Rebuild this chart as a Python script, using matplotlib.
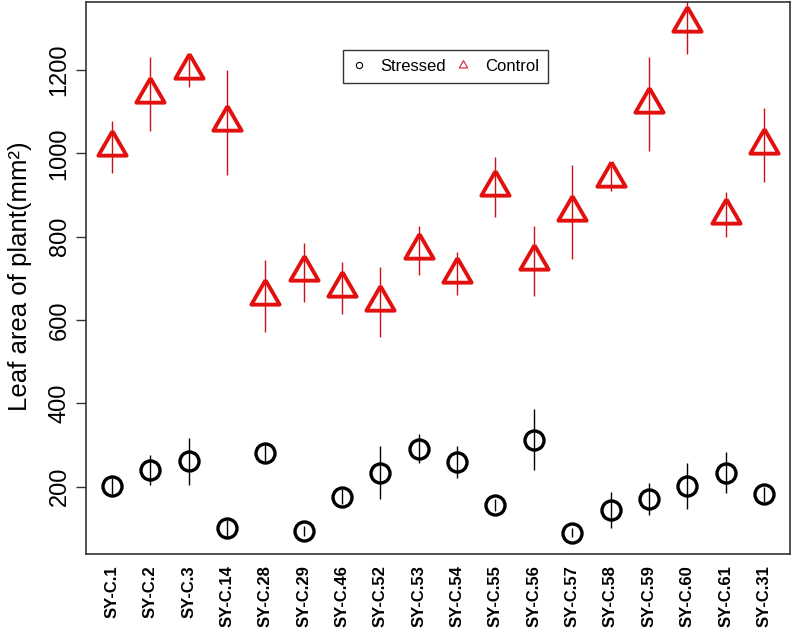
import numpy as np
import matplotlib
matplotlib.use("Agg")
import matplotlib.pyplot as plt

plt.rcParams['font.family'] = ['Liberation Sans', 'DejaVu Sans']

# lines (genotypes) in plotting order
lines = ["SY-C.1", "SY-C.2", "SY-C.3", "SY-C.14", "SY-C.28", "SY-C.29",
         "SY-C.46", "SY-C.52", "SY-C.53", "SY-C.54", "SY-C.55", "SY-C.56",
         "SY-C.57", "SY-C.58", "SY-C.59", "SY-C.60", "SY-C.61", "SY-C.31"]

# mean leaf area (mm2) and error
stressed = [202, 240, 261, 100, 282, 94, 176, 234, 291, 260, 156, 313,
            90, 144, 170, 202, 234, 182]
stressed_err = [20, 36, 57, 20, 20, 12, 18, 64, 35, 38, 14, 74,
                10, 43, 39, 56, 49, 18]
control = [1015, 1142, 1200, 1074, 657, 714, 676, 644, 767, 711, 920, 742,
           859, 940, 1118, 1313, 853, 1020]
control_err = [63, 88, 40, 125, 86, 70, 62, 84, 59, 51, 72, 84,
               113, 30, 112, 75, 53, 88]

x = np.arange(1, len(lines) + 1)

# equilateral triangle like R's pch=2, centred on its centroid
tri = [(0, 1), (-np.sqrt(3) / 2, -0.5), (np.sqrt(3) / 2, -0.5), (0, 1)]

fig = plt.figure(figsize=(7.93, 6.28), dpi=100)
ax = fig.add_axes([0.1084, 0.1178, 0.9962 - 0.1084, 0.9968 - 0.1178])

ax.vlines(x, np.array(stressed) - stressed_err, np.array(stressed) + stressed_err,
          color="black", lw=1.0, zorder=2)
ax.vlines(x, np.array(control) - control_err, np.array(control) + control_err,
          color="#cc1010", lw=1.0, zorder=2)

ax.plot(x, stressed, ls="none", marker="o", ms=13.7, mfc="none", mec="black",
        mew=2.4, zorder=3)
ax.plot(x, control, ls="none", marker=tri, ms=23.5, mfc="none", mec="#e31010",
        mew=2.8, zorder=3)

# legend handles
h1, = ax.plot([], [], ls="none", marker="o", ms=4.5, mfc="none", mec="black", mew=0.8)
h2, = ax.plot([], [], ls="none", marker=tri, ms=7, mfc="none", mec="#d8202c", mew=0.8)
leg = ax.legend([h1, h2], ["Stressed", "Control"], ncol=2, loc="upper left",
                bbox_to_anchor=(0.365, 0.913), fontsize=12, frameon=True,
                fancybox=False, edgecolor="black", handlelength=0.8,
                handletextpad=0.92, columnspacing=0.58, borderpad=0.55,
                borderaxespad=0)
leg.get_frame().set_linewidth(1.0)

ax.set_xlim(0.32, 18.68)
ax.set_ylim(38.5, 1363)

ax.set_xticks(x)
ax.set_xticklabels(lines, rotation=90, fontsize=12, fontweight="bold", va="top")
ax.tick_params(axis="x", which="major", length=0, pad=8)
ax.set_xticks([5, 10, 15], minor=True)
ax.tick_params(axis="x", which="minor", length=5, width=1.0, color="#333333")

ax.set_yticks([200, 400, 600, 800, 1000, 1200])
ax.tick_params(axis="y", length=7, width=1.0, labelsize=17, pad=4, color="#333333")
for lab in ax.get_yticklabels():
    lab.set_rotation(90)
    lab.set_va("center")

ax.set_ylabel("Leaf area of plant(mm²)", fontsize=18.5)
ax.yaxis.set_label_coords(-0.076, 0.504)

for s in ax.spines.values():
    s.set_linewidth(1.2)
    s.set_color("#333333")

fig.savefig("out.png", dpi=100)
